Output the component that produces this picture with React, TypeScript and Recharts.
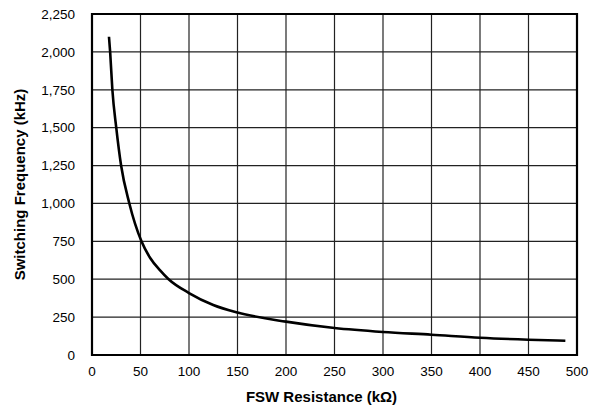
import React from "react";
import {
  LineChart,
  Line,
  XAxis,
  YAxis,
  CartesianGrid,
  ReferenceArea,
} from "recharts";

// FSW resistance (kOhm) vs switching frequency (kHz)
const resistance = [17.5, 18.7, 21, 25, 30, 38.5, 51, 60, 70, 79, 100, 125, 150, 200, 250, 300, 350, 400, 450, 488];
const frequency = [2100, 2000, 1750, 1500, 1250, 1000, 750, 640, 560, 500, 409, 330, 280, 220, 178, 152, 134, 114, 101, 94];

const xTicks = [0, 50, 100, 150, 200, 250, 300, 350, 400, 450, 500];
const yTicks = [0, 250, 500, 750, 1000, 1250, 1500, 1750, 2000, 2250];

const data = resistance.map((r, i) => ({ r, f: frequency[i] }));

const font = "'Liberation Sans', Arial, sans-serif";

export default function App() {
  return (
    <div style={{ position: "absolute", left: 0, top: 0, background: "#fff" }}>
      <LineChart
        width={595}
        height={409}
        data={data}
        margin={{ top: 14, right: 18, left: 12, bottom: 0 }}
      >
        <CartesianGrid stroke="#222" strokeWidth={1.2} />
        <XAxis
          dataKey="r"
          type="number"
          domain={[0, 500]}
          ticks={xTicks}
          height={54}
          axisLine={false}
          tickLine={false}
          tickSize={0}
          tickMargin={11}
          tick={{ fontSize: 13.5, fill: "#000", fontFamily: font }}
          label={{
            value: "FSW Resistance (kΩ)",
            position: "center",
            dx: -13,
            dy: 15,
            style: { fontSize: 15, fontWeight: "bold", fill: "#000", fontFamily: font },
          }}
        />
        <YAxis
          type="number"
          domain={[0, 2250]}
          ticks={yTicks}
          width={80}
          axisLine={false}
          tickLine={false}
          tickSize={0}
          tickMargin={17}
          tickFormatter={(v: number) => v.toLocaleString("en-US")}
          tick={{ fontSize: 13.5, fill: "#000", fontFamily: font }}
          label={{
            value: "Switching Frequency (kHz)",
            angle: -90,
            position: "center",
            dx: -32,
            style: { fontSize: 15, fontWeight: "bold", fill: "#000", fontFamily: font, textAnchor: "middle" },
          }}
        />
        <ReferenceArea
          x1={0}
          x2={500}
          y1={0}
          y2={2250}
          fill="none"
          stroke="#000"
          strokeWidth={2.2}
          ifOverflow="visible"
        />
        <Line
          type="monotone"
          dataKey="f"
          stroke="#000"
          strokeWidth={2.6}
          dot={false}
          isAnimationActive={false}
        />
      </LineChart>
    </div>
  );
}
